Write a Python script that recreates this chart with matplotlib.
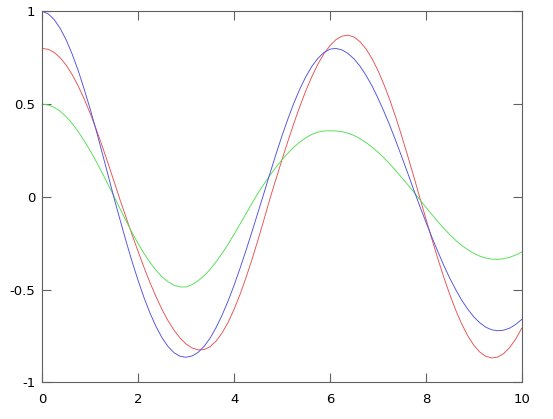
import matplotlib
matplotlib.use("Agg")
import matplotlib.pyplot as plt

x_vals = [0.0, 0.125, 0.25, 0.375, 0.5, 0.625, 0.75, 0.875,
          1.0, 1.125, 1.25, 1.375, 1.5, 1.625, 1.75, 1.875,
          2.0, 2.125, 2.25, 2.375, 2.5, 2.625, 2.75, 2.875,
          3.0, 3.125, 3.25, 3.375, 3.5, 3.625, 3.75, 3.875,
          4.0, 4.125, 4.25, 4.375, 4.5, 4.625, 4.75, 4.875,
          5.0, 5.125, 5.25, 5.375, 5.5, 5.625, 5.75, 5.875,
          6.0, 6.125, 6.25, 6.375, 6.5, 6.625, 6.75, 6.875,
          7.0, 7.125, 7.25, 7.375, 7.5, 7.625, 7.75, 7.875,
          8.0, 8.125, 8.25, 8.375, 8.5, 8.625, 8.75, 8.875,
          9.0, 9.125, 9.25, 9.375, 9.5, 9.625, 9.75, 9.875,
          10.0]

red_vals = [0.800, 0.795, 0.778, 0.749, 0.709, 0.658, 0.597, 0.527,
            0.449, 0.364, 0.273, 0.178, 0.080, -0.019, -0.113, -0.206,
            -0.296, -0.383, -0.465, -0.540, -0.609, -0.669, -0.720, -0.762,
            -0.794, -0.815, -0.825, -0.824, -0.808, -0.778, -0.734, -0.677,
            -0.607, -0.526, -0.435, -0.337, -0.232, -0.122, -0.009, 0.096,
            0.200, 0.301, 0.398, 0.489, 0.574, 0.649, 0.716, 0.771,
            0.815, 0.847, 0.866, 0.872, 0.861, 0.837, 0.798, 0.746,
            0.682, 0.606, 0.521, 0.427, 0.325, 0.218, 0.108, -0.005,
            -0.117, -0.227, -0.333, -0.434, -0.527, -0.612, -0.686, -0.749,
            -0.800, -0.837, -0.860, -0.869, -0.864, -0.845, -0.812, -0.767,
            -0.709]

green_vals = [0.500, 0.495, 0.482, 0.461, 0.431, 0.395, 0.351, 0.302,
              0.248, 0.190, 0.128, 0.065, 0.000, -0.066, -0.131, -0.194,
              -0.253, -0.307, -0.355, -0.397, -0.432, -0.458, -0.477, -0.486,
              -0.486, -0.473, -0.453, -0.425, -0.391, -0.351, -0.305, -0.256,
              -0.202, -0.147, -0.091, -0.034, 0.020, 0.069, 0.116, 0.159,
              0.200, 0.236, 0.269, 0.296, 0.319, 0.337, 0.349, 0.355,
              0.356, 0.355, 0.351, 0.343, 0.331, 0.314, 0.293, 0.269,
              0.241, 0.210, 0.176, 0.141, 0.103, 0.065, 0.025, -0.015,
              -0.056, -0.095, -0.134, -0.170, -0.204, -0.235, -0.262, -0.285,
              -0.305, -0.320, -0.330, -0.336, -0.337, -0.334, -0.326, -0.314,
              -0.298]

blue_vals = [1.000, 0.986, 0.955, 0.907, 0.845, 0.768, 0.680, 0.579,
             0.472, 0.357, 0.236, 0.114, -0.010, -0.127, -0.242, -0.351,
             -0.452, -0.546, -0.629, -0.701, -0.761, -0.808, -0.841, -0.860,
             -0.865, -0.858, -0.839, -0.806, -0.762, -0.705, -0.638, -0.562,
             -0.477, -0.385, -0.288, -0.187, -0.083, 0.021, 0.127, 0.230,
             0.329, 0.421, 0.507, 0.583, 0.649, 0.704, 0.747, 0.778,
             0.796, 0.800, 0.792, 0.773, 0.744, 0.705, 0.656, 0.599,
             0.533, 0.461, 0.384, 0.301, 0.214, 0.126, 0.036, -0.051,
             -0.135, -0.217, -0.295, -0.370, -0.439, -0.501, -0.558, -0.606,
             -0.647, -0.679, -0.703, -0.717, -0.722, -0.719, -0.708, -0.688,
             -0.661]

x_ticks = [0, 2, 4, 6, 8, 10]
x_labels = ["0", "2", "4", "6", "8", "10"]
y_ticks = [-1, -0.5, 0, 0.5, 1]
y_labels = ["-1", "-0.5", "0", "0.5", "1"]

fig = plt.figure(figsize=(5.53, 4.19), dpi=100)
ax = fig.add_axes([0.0765, 0.0876, 0.8669, 0.8854])

# thin lines, like the gnuplot png terminal
ax.plot(x_vals, red_vals, color="#e85050", lw=0.65)
ax.plot(x_vals, green_vals, color="#50e050", lw=0.65)
ax.plot(x_vals, blue_vals, color="#5050e0", lw=0.65)

ax.set_xlim(0, 10)
ax.set_ylim(-1, 1)
ax.set_xticks(x_ticks)
ax.set_xticklabels(x_labels)
ax.set_yticks(y_ticks)
ax.set_yticklabels(y_labels)

for s in ax.spines.values():
    s.set_color("#606060")
    s.set_linewidth(0.8)
ax.tick_params(direction="in", length=6.5, width=0.8, color="#606060",
               top=True, right=True, labelsize=9.5, labelcolor="black")
ax.tick_params(axis="x", pad=7.5)
ax.tick_params(axis="y", pad=5)

fig.savefig("out.png", dpi=100)
